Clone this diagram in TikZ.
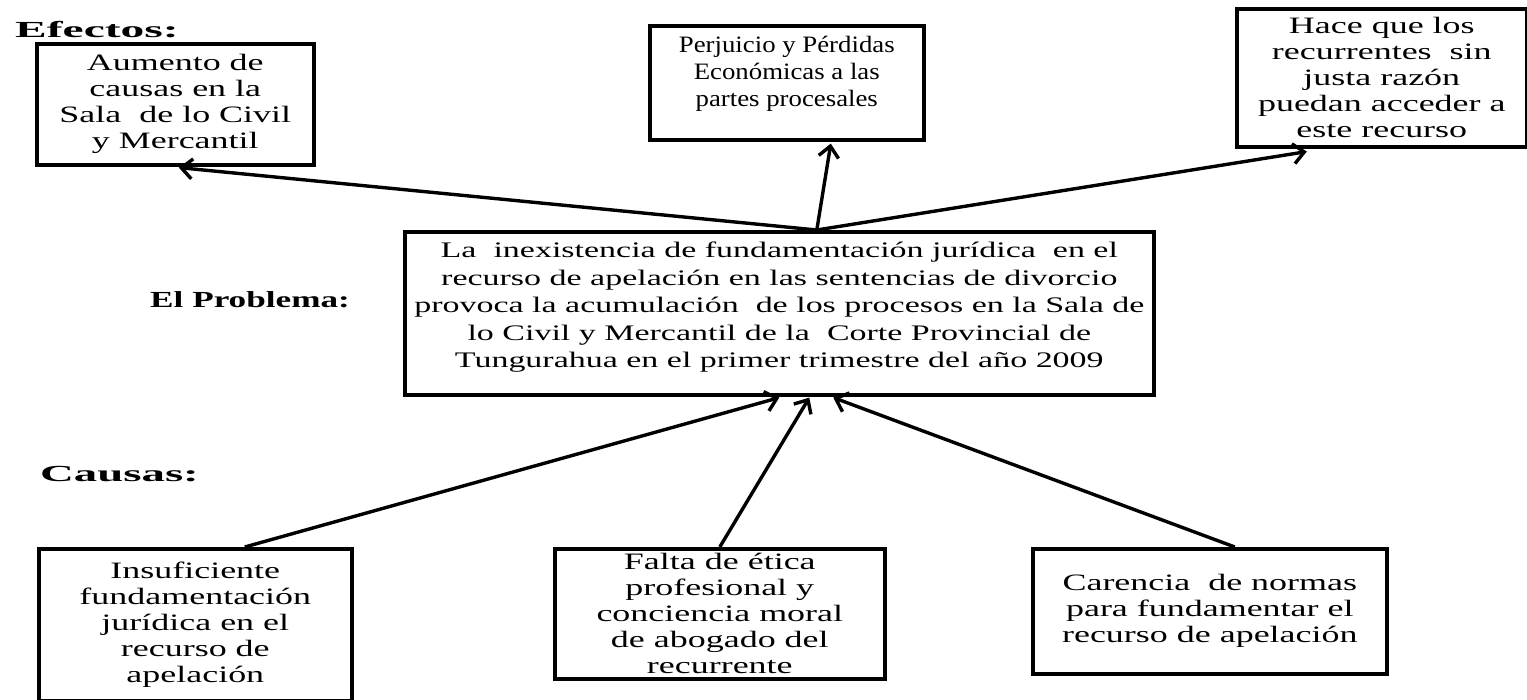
\documentclass[tikz,border=0pt]{standalone}
\usepackage{graphicx}
\usepackage{fontspec}
\setmainfont{Liberation Serif}[FakeStretch=1.53]
\newfontfamily\narrowfont{Liberation Serif}[FakeStretch=1.14]
\usetikzlibrary{arrows.meta}
\begin{document}
\begin{tikzpicture}[x=1pt,y=-1pt,
  box/.style={draw=black, line width=3.6pt, align=center, inner sep=2pt,
    font=\fontsize{23.5}{26}\selectfont},
  mainbox/.style={box, font=\fontsize{22.2}{27.5}\selectfont},
  lbl/.style={anchor=west, inner sep=0pt, font=\fontsize{23}{26}\selectfont\bfseries},
  arr/.style={line width=3.4pt, -{Straight Barb[length=11pt,width=20pt,line width=3.4pt]}}
]
\useasboundingbox (0,0) rectangle (1527,700);
\fill[white] (0,0) rectangle (1527,700);

% effects
\node[box, anchor=north west, minimum width=277pt, minimum height=121pt] (aum) at (35,42)
  {Aumento de\\causas en la\\Sala\ \ de lo Civil\\y Mercantil};
\node[box, anchor=north west, minimum width=274pt, minimum height=114pt, text depth=22pt,
  font=\fontsize{23.5}{27}\selectfont\narrowfont] (per) at (648,24)
  {Perjuicio y Pérdidas\\Económicas a las\\partes procesales};
\node[box, anchor=north west, minimum width=290pt, minimum height=138pt] (hace) at (1235,7)
  {Hace que los\\recurrentes\ \ sin\\justa razón\\puedan acceder a\\este recurso};

% problem
\node[mainbox, anchor=north west, minimum width=749pt, minimum height=163pt, text depth=17pt] (main) at (403,230)
  {La\ \ inexistencia de fundamentación jurídica\ \ en el\\
   recurso de apelación en las sentencias de divorcio\\
   provoca la acumulación\ \ de los procesos en la Sala de\\
   lo Civil y Mercantil de la\ \ Corte Provincial de\\
   Tungurahua en el primer trimestre del año 2009};

% causes
\node[box, anchor=north west, minimum width=313pt, minimum height=152pt] (ins) at (37,547)
  {Insuficiente\\fundamentación\\jurídica en el\\recurso de\\apelación};
\node[box, anchor=north west, minimum width=330pt, minimum height=130pt] (fal) at (553,547)
  {Falta de ética\\profesional y\\conciencia moral\\de abogado del\\recurrente};
\node[box, anchor=north west, minimum width=354pt, minimum height=125pt] (car) at (1031,547)
  {Carencia\ \ de normas\\para fundamentar el\\recurso de apelación};

% labels
\node[lbl] (lef) at (15,30) {\scalebox{1.35}[1]{Efectos:}};
\node[lbl] (lpr) at (150,300) {El Problema:};
\node[lbl] (lca) at (40,474) {\scalebox{1.33}[1]{Causas:}};

% connectors
\coordinate (mtop) at ([xshift=37.5pt]main.north);
\draw[arr] (mtop) -- ([xshift=3.5pt,yshift=-1pt]aum.south);
\draw[arr] (mtop) -- ([xshift=44pt,yshift=-2pt]per.south);
\draw[arr] (mtop) -- ([xshift=-75pt,yshift=-3pt]hace.south);

\draw[arr] ([xshift=49.5pt]ins.north) -- ([xshift=0pt,yshift=-1pt]main.south);
\draw[arr] (fal.north) -- ([xshift=30pt,yshift=-1pt]main.south);
\draw[arr] ([xshift=25pt]car.north) -- ([xshift=54pt,yshift=-1pt]main.south);
\end{tikzpicture}
\end{document}
